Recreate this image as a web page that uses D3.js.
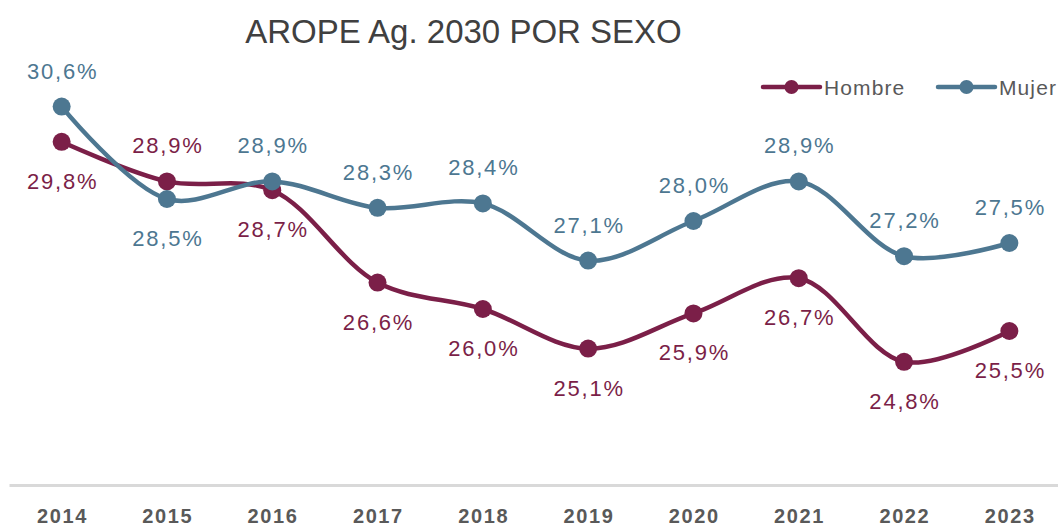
<!DOCTYPE html>
<html>
<head>
<meta charset="utf-8">
<script src="https://cdn.jsdelivr.net/npm/d3@7"></script>
<style>
  html, body { margin: 0; padding: 0; background: #ffffff; }
  svg { display: block; }
</style>
</head>
<body>
<div id="chart"></div>
<script>
// ---- data ----
const years = ["2014","2015","2016","2017","2018","2019","2020","2021","2022","2023"];
const hombre = [29.8, 28.9, 28.7, 26.6, 26.0, 25.1, 25.9, 26.7, 24.8, 25.5];
const mujer  = [30.6, 28.5, 28.9, 28.3, 28.4, 27.1, 28.0, 28.9, 27.2, 27.5];
const seriesNames = ["Hombre", "Mujer"];
const titleText = "AROPE Ag. 2030 POR SEXO";

// ---- setup ----
const W = 1058, H = 525;
const colors = { Hombre: "#7b1f48", Mujer: "#4d7791" };
const fontFam = "'Liberation Sans', Arial, sans-serif";

const svg = d3.select("#chart").append("svg")
  .attr("width", W).attr("height", H);

const x = d3.scaleBand().domain(years).range([9, 1062]);
const y = d3.scaleLinear().domain([22, 32]).range([485, 45]);
const cx = d => x(d) + x.bandwidth() / 2;

// title
svg.append("text")
  .attr("x", 463.5).attr("y", 43)
  .attr("text-anchor", "middle")
  .attr("font-family", fontFam)
  .attr("font-size", 33)
  .attr("fill", "#404040")
  .text(titleText);

// x axis
const xAxis = svg.append("g")
  .attr("transform", "translate(0,485)")
  .call(d3.axisBottom(x).tickSize(0).tickPadding(0));
xAxis.select(".domain").attr("stroke", "#d9d9d9").attr("stroke-width", 3);
xAxis.selectAll(".tick text")
  .attr("y", 37.5).attr("dy", 0)
  .attr("dx", 0.8)
  .attr("font-family", fontFam)
  .attr("font-size", 20)
  .attr("font-weight", "bold")
  .attr("letter-spacing", 1.6)
  .attr("fill", "#595959");

// lines
const series = [
  { name: "Hombre", values: hombre },
  { name: "Mujer", values: mujer }
];
const line = d3.line()
  .x((d, i) => cx(years[i]))
  .y(d => y(d))
  .curve(d3.curveCatmullRom.alpha(0.5));

series.forEach(s => {
  const g = svg.append("g");
  g.append("path")
    .datum(s.values)
    .attr("d", line)
    .attr("fill", "none")
    .attr("stroke", colors[s.name])
    .attr("stroke-width", 4.5)
    .attr("stroke-linecap", "round");
  g.selectAll("circle").data(s.values).join("circle")
    .attr("cx", (d, i) => cx(years[i]))
    .attr("cy", d => y(d))
    .attr("r", 9)
    .attr("fill", colors[s.name]);
});

// data labels: higher series above, lower below
const fmt = v => v.toFixed(1).replace(".", ",") + "%";
series.forEach(s => {
  const other = s.name === "Hombre" ? mujer : hombre;
  svg.append("g").selectAll("text").data(s.values).join("text")
    .attr("x", (d, i) => cx(years[i]) + 1)
    .attr("y", (d, i) => y(d) + (d >= other[i] ? -28 : 47))
    .attr("text-anchor", "middle")
    .attr("font-family", fontFam)
    .attr("font-size", 22)
    .attr("letter-spacing", 1.8)
    .attr("fill", colors[s.name])
    .text(d => fmt(d));
});

// legend
const legendItems = [
  { name: seriesNames[0], x0: 763 },
  { name: seriesNames[1], x0: 938 }
];
const lg = svg.append("g");
legendItems.forEach(it => {
  lg.append("line")
    .attr("x1", it.x0).attr("x2", it.x0 + 57)
    .attr("y1", 87).attr("y2", 87)
    .attr("stroke", colors[it.name])
    .attr("stroke-width", 4.5)
    .attr("stroke-linecap", "round");
  lg.append("circle")
    .attr("cx", it.x0 + 28.5).attr("cy", 87).attr("r", 7)
    .attr("fill", colors[it.name]);
  lg.append("text")
    .attr("x", it.x0 + 61).attr("y", 95)
    .attr("font-family", fontFam)
    .attr("font-size", 21)
    .attr("letter-spacing", 1.1)
    .attr("fill", "#595959")
    .text(it.name);
});
</script>
</body>
</html>
